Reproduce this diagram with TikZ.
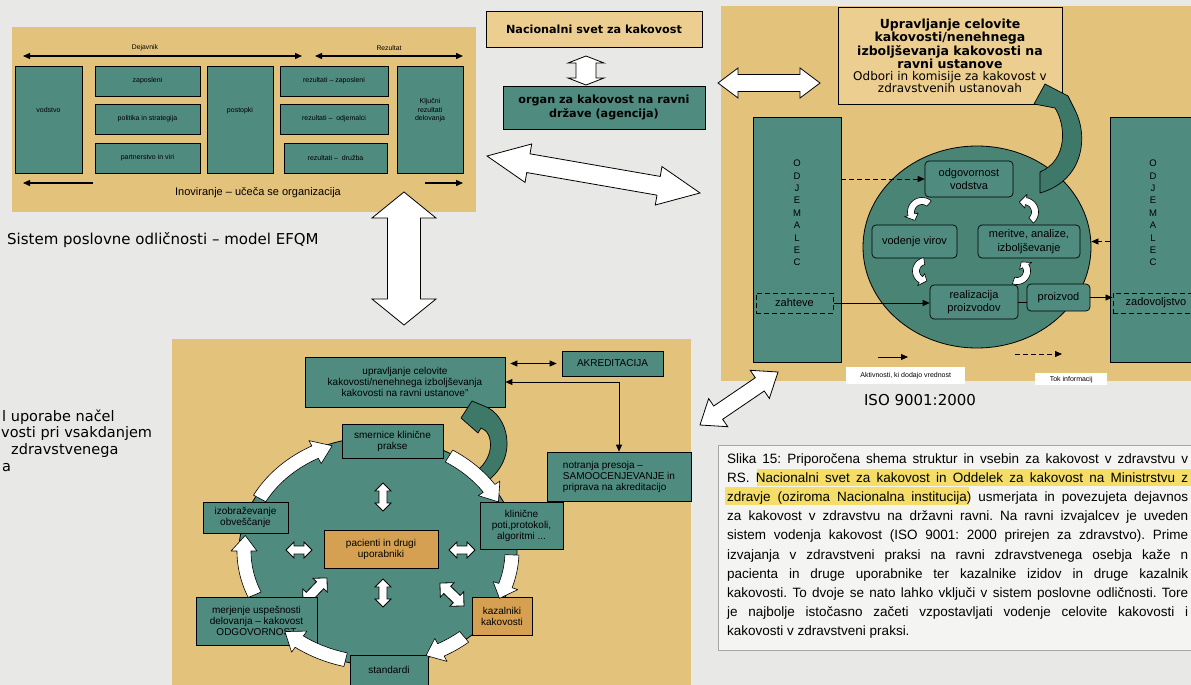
\documentclass[tikz,border=0pt]{standalone}
\usepackage{fontspec}
\setmainfont{Liberation Sans}
\newfontfamily\verd{DejaVu Sans}
\usetikzlibrary{arrows.meta,shapes.geometric}
\definecolor{pagebg}{RGB}{232,232,230}
\definecolor{paneltan}{RGB}{227,194,124}
\definecolor{tanlight}{RGB}{235,206,144}
\definecolor{teal1}{RGB}{80,139,127}
\definecolor{teal2}{RGB}{74,132,116}
\definecolor{tealdark}{RGB}{62,120,104}
\definecolor{orng}{RGB}{214,160,82}
\definecolor{hilite}{RGB}{244,222,104}
\definecolor{capbg}{RGB}{244,244,242}
\newcommand\blockdbl[4]{\filldraw[blockarrow] (0,0) -- (#4,-#3) -- (#4,-#2) -- ({#1-#4},-#2) -- ({#1-#4},-#3) -- (#1,0) -- ({#1-#4},#3) -- ({#1-#4},#2) -- (#4,#2) -- (#4,#3) -- cycle;}
\newcommand\cycarrow[9]{\filldraw[cycst] plot[domain=#5:#6, samples=18] ({#1+(#3+#8)*cos(\x)},{#2+(#4+#8)*sin(\x)}) -- ({#1+(#3+#9)*cos(#6)},{#2+(#4+#9)*sin(#6)}) -- ({#1+#3*cos(#7)},{#2+#4*sin(#7)}) -- ({#1+(#3-#9)*cos(#6)},{#2+(#4-#9)*sin(#6)}) -- ({#1+(#3-#8)*cos(#6)},{#2+(#4-#8)*sin(#6)}) -- plot[domain=#6:#5, samples=18] ({#1+(#3-#8)*cos(\x)},{#2+(#4-#8)*sin(\x)}) -- cycle;}
\newcommand\ubf{\verd\bfseries\fontsize{12.5}{13.4}\selectfont}
\newcommand\unr{\verd\fontsize{12}{12.6}\selectfont}
\newcommand\capf{\frenchspacing\fontsize{13.5}{19}\selectfont}
\frenchspacing
\begin{document}
\begin{tikzpicture}[x=1pt,y=-1pt,
 box/.style={draw, line width=0.7pt, fill=teal1, inner sep=1pt, align=center, font=\fontsize{10}{11}\selectfont},
 efqmbox/.style={box, font=\fontsize{7}{8.4}\selectfont},
 efqmtall/.style={efqmbox, text depth=20pt},
 isobox/.style={box, rounded corners=4pt, font=\fontsize{11}{13.5}\selectfont},
 dashbox/.style={box, dash pattern=on 5pt off 3pt, line width=1pt, font=\fontsize{11}{13}\selectfont},
 orbox/.style={box, fill=orng},
 panel/.style={fill=paneltan, inner sep=0, anchor=north west},
 arr/.style={-{Triangle[length=7pt,width=6pt]}, line width=0.8pt},
 dblarr/.style={{Triangle[length=7pt,width=6pt]}-{Triangle[length=7pt,width=6pt]}, line width=0.8pt},
 blockarrow/.style={draw=black, fill=white, line width=0.8pt, line join=miter},
 cycst/.style={draw=black, fill=white, line width=0.6pt, line join=round},
 tealarrow/.style={draw=black, fill=tealdark, line width=0.7pt, line join=round},
 capline/.style={anchor=base west, inner sep=0, font=\capf}]
\useasboundingbox (0,0) rectangle (1191,685);
\fill[pagebg] (0,0) rectangle (1191,685);

% ---------------- EFQM panel ----------------
\node[panel, minimum width=464pt, minimum height=185pt] (efqm) at (12,27) {};
\node[efqmtall, minimum width=67pt, minimum height=107pt] (vodstvo) at (48.5,119.5) {vodstvo};
\node[efqmbox, minimum width=105pt, minimum height=30pt] (zap) at (147.5,81) {zaposleni};
\node[efqmbox, minimum width=105pt, minimum height=30pt] (pol) at (147.5,119) {politika in strategija};
\node[efqmbox, minimum width=105pt, minimum height=30pt] (par) at (147.5,158) {partnerstvo in viri};
\node[efqmtall, minimum width=66pt, minimum height=107pt] (post) at (240,119.5) {postopki};
\node[efqmbox, minimum width=108pt, minimum height=30pt] (rzap) at (334,81) {rezultati – zaposleni};
\node[efqmbox, minimum width=108pt, minimum height=30pt] (rodj) at (334,119) {rezultati –\ \ odjemalci};
\node[efqmbox, minimum width=103pt, minimum height=30pt] (rdru) at (335.5,158) {rezultati –\ \ družba};
\node[efqmtall, minimum width=66pt, minimum height=107pt] (klj) at (430,119.5) {Ključni\\rezultati\\delovanja};
\node[font=\fontsize{6.8}{8}\selectfont] (dejl) at (145,48) {Dejavnik};
\node[font=\fontsize{6.8}{8}\selectfont] (rezl) at (389,48) {Rezultat};
\coordinate (dejA) at (23,56); \coordinate (dejB) at (302,56);
\coordinate (rezA) at (315,56); \coordinate (rezB) at (463,56);
\draw[dblarr, line width=1.3pt] (dejA) -- (dejB);
\draw[dblarr, line width=1.3pt] (rezA) -- (rezB);
\coordinate (inL1) at (93,183); \coordinate (inL2) at (23,183);
\coordinate (inR1) at (425,183); \coordinate (inR2) at (463,183);
\draw[arr, line width=1.3pt] (inL1) -- (inL2);
\draw[arr, line width=1.3pt] (inR1) -- (inR2);
\node[font=\fontsize{11}{12}\selectfont] (inov) at (258,193) {Inoviranje – učeča se organizacija};
\node[anchor=west, inner sep=0, font=\verd\fontsize{15}{16}\selectfont] (efqmcap) at (7,240) {Sistem poslovne odličnosti – model EFQM};

% left text fragments
\node[anchor=base west, inner sep=0, font=\verd\fontsize{14.5}{16}\selectfont] (lf1) at (2,421) {l uporabe načel};
\node[anchor=base west, inner sep=0, font=\verd\fontsize{14.5}{16}\selectfont] (lf2) at (1,437) {vosti pri vsakdanjem};
\node[anchor=base west, inner sep=0, font=\verd\fontsize{14.5}{16}\selectfont] (lf3) at (11,454) {zdravstvenega};
\node[anchor=base west, inner sep=0, font=\verd\fontsize{14.5}{16}\selectfont] (lf4) at (2,471) {a};

% ---------------- national level ----------------
\node[draw, line width=0.7pt, fill=tanlight, minimum width=216pt, minimum height=36pt, font=\verd\bfseries\fontsize{11.2}{13}\selectfont] (nsk) at (594,29) {Nacionalni svet za kakovost};
\node[box, minimum width=202pt, minimum height=43pt, font=\verd\bfseries\fontsize{11.2}{14}\selectfont] (organ) at (604,107.5) {organ za kakovost na ravni\\države (agencija)};
\begin{scope}[shift={(586,56)}, rotate=-90]\blockdbl{29}{10}{18}{7}\end{scope}

% big white arrows
\begin{scope}[shift={(404,192)}, rotate=-90]\blockdbl{133}{16.5}{32}{26}\end{scope}
\begin{scope}[shift={(487,156)}, rotate=-9.85]\blockdbl{216.2}{9.5}{19.5}{42}\end{scope}

% ---------------- ISO panel ----------------
\node[panel, minimum width=474pt, minimum height=375pt] (isop) at (721,6) {};
\begin{scope}[shift={(718,83)}]\blockdbl{102}{8.5}{15}{20}\end{scope}
\node[draw, line width=0.7pt, fill=tanlight, minimum width=224pt, minimum height=97pt, align=center, inner sep=1pt] (upri) at (950,55.5)
 {\ubf Upravljanje celovite\\\ubf kakovosti/nenehnega\\\ubf izboljševanja kakovosti na\\\ubf ravni ustanove\\\unr Odbori in komisije za kakovost v\\\unr zdravstvenih ustanovah};
\node[box, minimum width=88pt, minimum height=245pt] (odjL) at (797,239.5) {};
\node[box, minimum width=90pt, minimum height=245pt] (odjR) at (1155,239.5) {};
\node[align=center, inner sep=0, font=\fontsize{9.5}{12.4}\selectfont] (odjLt) at (797,213) {O\\D\\J\\E\\M\\A\\L\\E\\C};
\node[align=center, inner sep=0, font=\fontsize{9.5}{12.4}\selectfont] (odjRt) at (1153,213) {O\\D\\J\\E\\M\\A\\L\\E\\C};
\node[ellipse, draw, line width=0.8pt, fill=teal2, minimum width=228pt, minimum height=202pt, inner sep=0] (isoell) at (977,247) {};
\filldraw[tealarrow] (1040,172) .. controls (1068,160) and (1066,125) .. (1055,108) -- (1034,104) -- (1045,84) -- (1068,96) -- (1075,110) .. controls (1088,135) and (1085,180) .. (1040,193) -- cycle;
\node[isobox, minimum width=88pt, minimum height=36pt] (odg) at (969,179) {odgovornost\\vodstva};
\node[isobox, minimum width=85pt, minimum height=33pt] (vod) at (914.5,241.5) {vodenje virov};
\node[isobox, minimum width=102pt, minimum height=33pt] (mer) at (1029,241.5) {meritve, analize,\\izboljševanje};
\node[isobox, minimum width=88pt, minimum height=34pt] (real) at (974,302) {realizacija\\proizvodov};
\node[isobox, minimum width=63pt, minimum height=27pt] (proiz) at (1058.5,297.5) {proizvod};
\node[dashbox, minimum width=77pt, minimum height=20pt] (zaht) at (794.5,303) {zahteve};
\node[dashbox, minimum width=86pt, minimum height=20pt] (zad) at (1156,303) {zadovoljstvo};
\cycarrow{922}{212}{11}{11}{-50}{-195}{-230}{3.5}{7}
\cycarrow{1024}{212}{11}{11}{50}{-80}{-115}{3.5}{7}
\cycarrow{926}{271}{10}{10}{-100}{-240}{-275}{3.5}{7}
\cycarrow{1017}{271}{10}{10}{110}{-30}{-65}{3.5}{7}
\draw[arr] (zaht.east) -- (zaht.east -| real.west);
\draw[line width=0.8pt] (real.east) -- (real.east -| proiz.west);
\draw[arr] (proiz.east) -- (proiz.east -| zad.west);
\draw[arr, dash pattern=on 5pt off 3pt] (odg.west -| odjL.east) -- (odg.west);
\draw[arr, dash pattern=on 5pt off 3pt] (mer.east -| odjR.west) -- (mer.east -| isoell.east);
\coordinate (lgA1) at (878,357); \coordinate (lgA2) at (908,357);
\coordinate (lgB1) at (1015,354); \coordinate (lgB2) at (1062,354);
\draw[arr] (lgA1) -- (lgA2);
\draw[arr, dash pattern=on 5pt off 3pt] (lgB1) -- (lgB2);
\node[fill=white, anchor=north west, minimum width=119pt, minimum height=17pt, inner sep=0, font=\fontsize{7}{8}\selectfont] (akt) at (846,367) {Aktivnosti, ki dodajo vrednost};
\node[fill=white, anchor=north west, minimum width=72pt, minimum height=12pt, inner sep=0, font=\fontsize{7}{8}\selectfont] (tok) at (1035,373) {Tok informacij};
\node[font=\verd\fontsize{15}{16}\selectfont] (isot) at (920,400) {ISO 9001:2000};
\begin{scope}[shift={(700,425)}, rotate=34.2]\blockdbl{94.3}{8}{17}{22}\end{scope}

% ---------------- bottom panel ----------------
\node[panel, minimum width=519pt, minimum height=350pt] (botp) at (172,339) {};
\node[ellipse, draw, line width=0.8pt, fill=teal1, minimum width=278pt, minimum height=228pt, inner sep=0] (botell) at (378,551) {};
\begin{scope}[shift={(383,483)}, rotate=-90]\blockdbl{28}{4}{8}{8}\end{scope}
\begin{scope}[shift={(383,579)}, rotate=-90]\blockdbl{28}{4}{8}{8}\end{scope}
\begin{scope}[shift={(286,550)}]\blockdbl{26}{4}{8}{8}\end{scope}
\begin{scope}[shift={(449,550)}]\blockdbl{26}{4}{8}{8}\end{scope}
\begin{scope}[shift={(303,603)}, rotate=46.2]\blockdbl{34.7}{5}{10}{10}\end{scope}
\begin{scope}[shift={(440,583)}, rotate=-43.8]\blockdbl{33.2}{5}{10}{10}\end{scope}
\node[box, minimum width=200pt, minimum height=50pt] (upr) at (405,382) {upravljanje celovite\\kakovosti/nenehnega izboljševanja\\kakovosti na ravni ustanove"};
\node[box, minimum width=101pt, minimum height=25pt] (akred) at (612.5,363.5) {AKREDITACIJA};
\node[box, minimum width=144pt, minimum height=49pt, align=left] (notr) at (619,476.5) {notranja presoja –\\SAMOOCENJEVANJE in\\priprava na akreditacijo};
\node[box, minimum width=101pt, minimum height=34pt] (smer) at (392.5,441) {smernice klinične\\prakse};
\node[box, minimum width=85pt, minimum height=31pt] (izo) at (245.5,517.5) {izobraževanje\\obveščanje};
\node[orbox, minimum width=114pt, minimum height=38pt] (pac) at (381,549) {pacienti in drugi\\uporabniki};
\node[box, minimum width=83pt, minimum height=47pt] (klin) at (521.5,525.5) {klinične\\poti,protokoli,\\algoritmi ...};
\node[box, minimum width=121pt, minimum height=48pt] (merj) at (256.5,621) {merjenje uspešnosti\\delovanja – kakovost\\ODGOVORNOST};
\node[orbox, minimum width=60pt, minimum height=38pt] (kaz) at (502,616) {kazalniki\\kakovosti};
\node[box, minimum width=78pt, minimum height=30pt] (std) at (389,670) {standardi};
\filldraw[tealarrow] (461,418) -- (472,401) -- (484,406) .. controls (508,414) and (520,458) .. (486,482) -- (472,474) .. controls (496,460) and (494,432) .. (481,428) -- (478,433) -- cycle;
\cycarrow{378}{551}{134}{112}{-152}{-118}{-110}{7}{13}
\cycarrow{378}{551}{134}{112}{-58}{-34}{-26}{7}{13}
\cycarrow{378}{551}{134}{112}{2}{18}{25}{7}{13}
\cycarrow{378}{551}{134}{112}{50}{62}{69}{7}{13}
\cycarrow{378}{551}{134}{112}{104}{126}{134}{7}{13}
\cycarrow{378}{551}{134}{112}{157}{180}{188}{7}{13}
\draw[dblarr, shorten <=5pt, shorten >=5pt] (upr.east |- akred.west) -- (akred.west);
\draw[dblarr] (upr.east) -| (notr.north);

% ---------------- caption ----------------
\node[draw=gray!70, line width=0.6pt, fill=capbg, anchor=north west, minimum width=480pt, minimum height=205pt, inner sep=0] (capbox) at (718,445) {};
\fill[hilite] (757,469) rectangle (1191,486);
\fill[hilite] (725,487) rectangle (969,505);
\node[capline] (c1) at (727,463) {\hbox to 461pt{Slika 15: Priporočena shema struktur in vsebin za kakovost v zdravstvu v}};
\node[capline] (c2) at (727,482.2) {\hbox to 461pt{RS. Nacionalni svet za kakovost in Oddelek za kakovost na Ministrstvu z}};
\node[capline] (c3) at (727,501.4) {\hbox to 461pt{zdravje (oziroma Nacionalna institucija) usmerjata in povezujeta dejavnos}};
\node[capline] (c4) at (727,520.6) {\hbox to 461pt{za kakovost v zdravstvu na državni ravni. Na ravni izvajalcev je uveden}};
\node[capline] (c5) at (727,539.8) {\hbox to 461pt{sistem vodenja kakovost (ISO 9001: 2000 prirejen za zdravstvo). Prime}};
\node[capline] (c6) at (727,559) {\hbox to 461pt{izvajanja v zdravstveni praksi na ravni zdravstvenega osebja kaže n}};
\node[capline] (c7) at (727,578.2) {\hbox to 461pt{pacienta in druge uporabnike ter kazalnike izidov in druge kazalnik}};
\node[capline] (c8) at (727,597.4) {\hbox to 461pt{kakovosti. To dvoje se nato lahko vključi v sistem poslovne odličnosti. Tore}};
\node[capline] (c9) at (727,616.6) {\hbox to 461pt{je najbolje istočasno začeti vzpostavljati vodenje celovite kakovosti i}};
\node[capline] (c10) at (727,635.8) {kakovosti v zdravstveni praksi.};
\end{tikzpicture}
\end{document}
